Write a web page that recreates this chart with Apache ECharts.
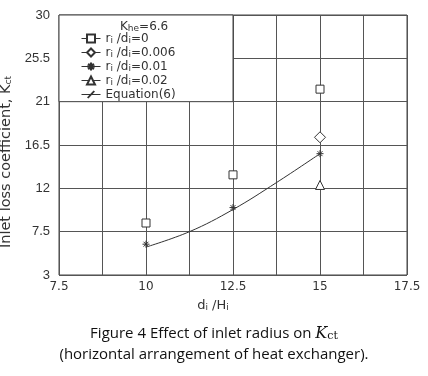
<!DOCTYPE html>
<html>
<head>
<meta charset="utf-8">
<script src="https://cdn.jsdelivr.net/npm/echarts@6/dist/echarts.min.js"></script>
<style>
    html, body { margin: 0; padding: 0; background: #fff; }
    #chart { width: 428px; height: 376px; }
</style>
</head>
<body>
<div id="chart"></div>
<script>
    // d_i/H_i positions of the measurements
    const diHi = [10, 12.5, 15]
    // K_ct (null = no point)
    const kct_r0 = [8.4, 13.4, 22.3]
    const kct_r006 = [null, null, 17.3]
    const kct_r01 = [6.2, 10.0, 15.6]
    const kct_r02 = [null, null, 12.35]
    // Equation(6) curve
    const eqX = [10, 11.25, 12.5, 13.75, 15]
    const eqY = [5.9, 7.5, 9.8, 12.6, 15.6]
    const xTickLabels = [7.5, 10, 12.5, 15, 17.5]
    const yTickLabels = [3, 7.5, 12, 16.5, 21, 25.5, 30]

    const font = 'DejaVu Sans'
    const ink = '#333'
    const asterisk = 'path://M0,5L10,5M5,0L5,10M1.5,1.5L8.5,8.5M1.5,8.5L8.5,1.5'
    const tick = 'path://M3,7.2L6.6,3L7.4,3.6L3.8,7.8Z'

    const pairs = (xs, ys) => xs.map((x, i) => [x, ys[i]]).filter(p => p[1] != null)
    const sub = { fontSize: 9, lineHeight: 9, fontFamily: font, color: ink, padding: [4, 0, 0, 0] }

    const legendNames = {
        'r0': 'r{sub|i} /d{sub|i}=0',
        'r006': 'r{sub|i} /d{sub|i}=0.006',
        'r01': 'r{sub|i} /d{sub|i}=0.01',
        'r02': 'r{sub|i} /d{sub|i}=0.02',
        'eq': 'Equation(6)'
    }

    function pointSeries(name, ys, symbol, size) {
        return {
            name: name,
            type: 'line',
            data: pairs(diHi, ys),
            symbol: symbol,
            symbolSize: size,
            showSymbol: true,
            lineStyle: { width: 0 },
            itemStyle: { color: '#fff', borderColor: ink, borderWidth: 1 },
            z: 3
        }
    }

    const myChart = echarts.init(document.getElementById('chart'))
    const captionStyle = {
        fontFamily: 'Open Sans', fontSize: 15, fontWeight: 'normal', color: '#111',
        rich: {
            k: { fontFamily: 'DejaVu Serif', fontStyle: 'italic', fontSize: 16, color: '#111' },
            ct: { fontFamily: 'DejaVu Serif', fontSize: 11, color: '#111', padding: [6, 0, 0, 0] }
        }
    }
    const option = {
        backgroundColor: '#fff',
        animation: false,
        grid: {
            left: 59, top: 15, width: 348, height: 260,
            outerBoundsMode: 'none',
            containLabel: false,
            show: true, borderColor: '#444', borderWidth: 1
        },
        title: [{
            text: 'K{sub|he}=6.6',
            left: 120, top: 21, padding: 0,
            textStyle: { fontFamily: font, fontSize: 12, fontWeight: 'normal', color: ink, rich: { sub: sub } }
        }, {
            text: 'Figure 4 Effect of inlet radius on {k|K}{ct|ct}',
            left: 'center', top: 325, padding: 0,
            textStyle: captionStyle
        }, {
            text: '(horizontal arrangement of heat exchanger).',
            left: 'center', top: 347, padding: 0,
            textStyle: captionStyle
        }],
        legend: {
            orient: 'vertical',
            left: 81, top: 32,
            padding: 0,
            itemGap: 1,
            itemWidth: 19, itemHeight: 10,
            data: ['r0', 'r006', 'r01', 'r02', 'eq'],
            lineStyle: { width: 1, color: ink },
            formatter: name => legendNames[name],
            textStyle: { fontFamily: font, fontSize: 12, lineHeight: 13, color: ink, rich: { sub: sub } }
        },
        xAxis: {
            type: 'value',
            min: 7.5, max: 17.5, interval: 1.25,
            name: 'd{sub|i} /H{sub|i}',
            nameLocation: 'middle', nameGap: 24,
            nameTextStyle: { fontFamily: font, fontSize: 13, color: ink, padding: [0, 40, 0, 0], rich: { sub: sub } },
            axisLine: { show: false },
            axisTick: { show: false },
            axisLabel: {
                margin: 6, fontFamily: font, fontSize: 12, color: ink,
                formatter: v => xTickLabels.includes(v) ? String(v) : ''
            },
            splitLine: { show: true, lineStyle: { color: '#555', width: 1 } }
        },
        yAxis: {
            type: 'value',
            min: 3, max: 30, interval: 4.5,
            name: 'Inlet loss coefficient, K{sub|ct}',
            nameLocation: 'middle', nameGap: 28,
            nameTextStyle: { fontFamily: font, fontSize: 14.5, color: ink, padding: [0, 34, 0, 0], rich: { sub: sub } },
            axisLine: { show: false },
            axisTick: { show: false },
            axisLabel: {
                margin: 9, fontFamily: 'Liberation Sans', fontSize: 13, color: ink,
                formatter: v => yTickLabels.includes(+v.toFixed(2)) ? String(v) : ''
            },
            splitLine: { show: true, lineStyle: { color: '#555', width: 1 } }
        },
        series: [
            pointSeries('r0', kct_r0, 'rect', 8),
            pointSeries('r006', kct_r006, 'diamond', 11),
            pointSeries('r01', kct_r01, asterisk, 7),
            pointSeries('r02', kct_r02, 'triangle', 9),
            {
                name: 'eq',
                type: 'line',
                data: pairs(eqX, eqY),
                smooth: 0.4,
                symbol: tick,
                symbolSize: 9,
                showSymbol: false,
                lineStyle: { width: 1, color: ink },
                itemStyle: { color: ink },
                z: 2
            }
        ]
    }
    myChart.setOption(option)

    // white legend panel in the top-left cells of the grid
    const p0 = myChart.convertToPixel({ gridIndex: 0 }, [7.5, 30])
    const p1 = myChart.convertToPixel({ gridIndex: 0 }, [12.5, 21])
    myChart.setOption({
        graphic: [{
            type: 'rect',
            z: 1,
            shape: { x: p0[0], y: p0[1], width: p1[0] - p0[0], height: p1[1] - p0[1] },
            style: { fill: '#fff', stroke: '#444', lineWidth: 1 }
        }]
    })
</script>
</body>
</html>
